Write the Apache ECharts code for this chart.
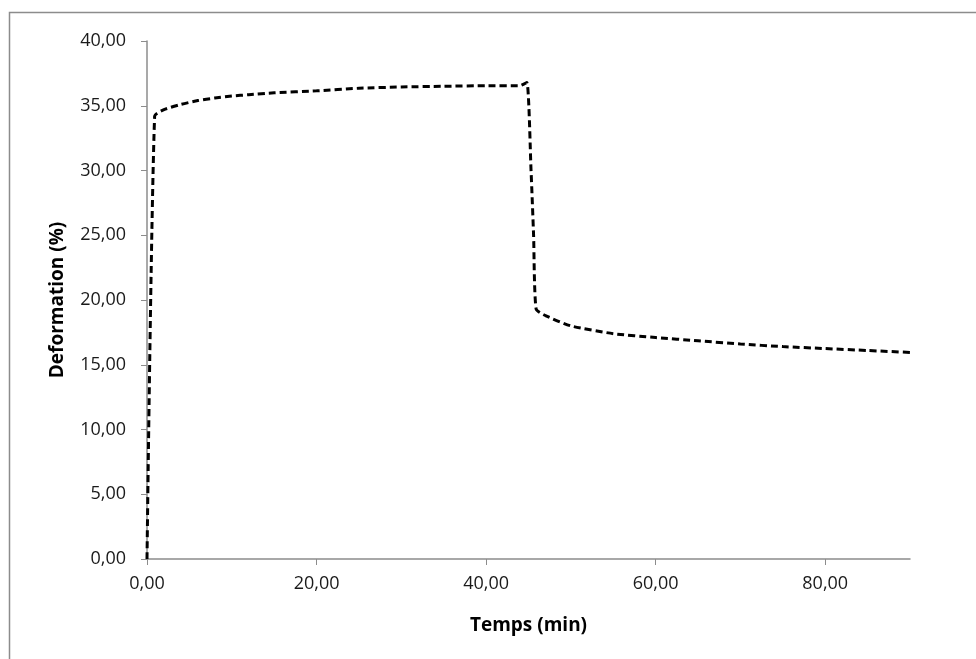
<!DOCTYPE html>
<html><head><meta charset="utf-8">
<script src="https://cdn.jsdelivr.net/npm/echarts@6/dist/echarts.min.js"></script>
<style>html,body{margin:0;padding:0;background:#fff}#c{width:976px;height:659px}</style>
</head><body><div id="c"></div>
<script>
var timeMin = [0, 0.9, 2, 4, 6, 8, 10, 12, 15, 20, 25, 30, 35, 40, 44, 44.8, 45.3, 45.6, 45.9, 47, 50, 55, 60, 65, 70, 75, 80, 85, 90];
var deformation = [0, 34.2, 34.7, 35.1, 35.4, 35.6, 35.75, 35.85, 36.0, 36.15, 36.35, 36.45, 36.5, 36.55, 36.55, 36.8, 30, 25, 19.3, 18.8, 18.0, 17.4, 17.1, 16.85, 16.6, 16.4, 16.25, 16.1, 15.95];
var xTitle = 'Temps (min)';
var yTitle = 'Deformation (%)';

var pts = timeMin.map(function(t, i){ return [t, deformation[i]]; });
function fmt(v){ return v.toFixed(2).replace('.', ','); }
var chart = echarts.init(document.getElementById('c'), null, {renderer:'canvas'});
var axisCol = '#8c8c8c';
var font = '"Open Sans", "Noto Sans", sans-serif';
chart.setOption({
  animation: false,
  backgroundColor: '#fff',
  graphic: [{type:'rect', shape:{x:9.5, y:12.5, width:1100, height:800}, style:{fill:'none', stroke:'#8c8c8c', lineWidth:1.5}, silent:true}],
  grid: {left:147, right:66, top:41, bottom:100},
  xAxis: {
    type:'value', min:0, max:90, interval:20,
    name:xTitle, nameLocation:'middle', nameGap:57,
    nameTextStyle:{fontFamily:font, fontWeight:'bold', fontSize:19, color:'#000'},
    axisLine:{show:true, onZero:false, lineStyle:{color:axisCol, width:1.5}},
    axisTick:{show:true, length:6, lineStyle:{color:axisCol}},
    axisLabel:{fontFamily:font, fontSize:18, color:'#1a1a1a', margin:16, formatter:fmt, showMaxLabel:false},
    splitLine:{show:false}
  },
  yAxis: {
    type:'value', min:0, max:40, interval:5,
    name:yTitle, nameLocation:'middle', nameGap:80, nameRotate:90,
    nameTextStyle:{fontFamily:font, fontWeight:'bold', fontSize:19, color:'#000'},
    axisLine:{show:true, lineStyle:{color:axisCol, width:1.5}},
    axisTick:{show:true, length:6, lineStyle:{color:axisCol}},
    axisLabel:{fontFamily:font, fontSize:18, color:'#1a1a1a', margin:21, formatter:fmt},
    splitLine:{show:false}
  },
  series: [{
    type:'line', data:pts, showSymbol:false, smooth:0.2,
    lineStyle:{color:'#000', width:3, type:[7,4]}
  }]
});
</script></body></html>
